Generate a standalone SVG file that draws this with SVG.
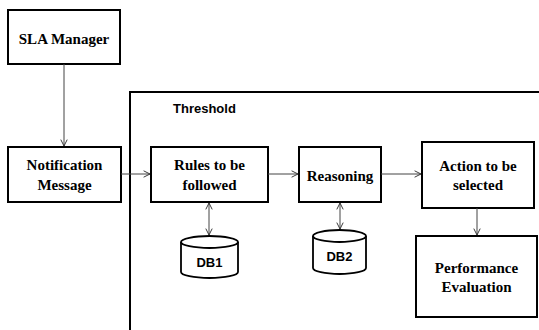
<svg xmlns="http://www.w3.org/2000/svg" width="539" height="330" viewBox="0 0 539 330">
  <defs>
    <marker id="arr" viewBox="0 0 10 10" refX="9" refY="5" markerWidth="8" markerHeight="8" markerUnits="userSpaceOnUse" orient="auto-start-reverse">
      <path d="M1,1 L9,5 L1,9" fill="none" stroke="#333" stroke-width="1.2"/>
    </marker>
    <style>
      .box { fill: #fff; stroke: #000; stroke-width: 2; }
      .frame { fill: none; stroke: #000; stroke-width: 2; }
      .lbl { font-family: 'Liberation Serif', 'DejaVu Serif', 'Times New Roman', serif; font-weight: bold; font-size: 15px; fill: #000; text-anchor: middle; }
      .db { font-family: 'Liberation Sans', Arial, sans-serif; font-weight: bold; font-size: 13px; fill: #000; text-anchor: middle; }
      .cyl { fill: #fff; stroke: #000; stroke-width: 1.8; }
      .conn { fill: none; stroke: #444; stroke-width: 1; }
    </style>
  </defs>
  <rect width="539" height="330" fill="#fff"/>

  <!-- threshold frame (runs off right and bottom edges) -->
  <g id="threshold">
    <rect class="frame" x="130" y="92" width="420" height="260"/>
    <text class="db" x="173" y="113" style="text-anchor:start">Threshold</text>
  </g>

  <g id="sla-manager">
    <rect class="box" x="8" y="10" width="112" height="54"/>
    <text class="lbl" x="64" y="44" font-family="Liberation Serif, serif">SLA Manager</text>
  </g>

  <g id="notification">
    <rect class="box" x="8" y="147" width="113" height="55"/>
    <text class="lbl" x="64.5" y="170">Notification</text>
    <text class="lbl" x="64.5" y="190">Message</text>
  </g>

  <g id="rules">
    <rect class="box" x="151" y="147" width="117" height="55"/>
    <text class="lbl" x="209.5" y="170">Rules to be</text>
    <text class="lbl" x="209.5" y="190">followed</text>
  </g>

  <g id="reasoning">
    <rect class="box" x="299" y="147" width="82" height="55"/>
    <text class="lbl" x="340" y="181">Reasoning</text>
  </g>

  <g id="action">
    <rect class="box" x="422" y="142" width="112" height="66"/>
    <text class="lbl" x="478" y="171">Action to be</text>
    <text class="lbl" x="478" y="190">selected</text>
  </g>

  <g id="performance">
    <rect class="box" x="416" y="236" width="121" height="81"/>
    <text class="lbl" x="476.5" y="273">Performance</text>
    <text class="lbl" x="476.5" y="292">Evaluation</text>
  </g>

  <g id="db1">
    <path class="cyl" d="M181,242 L181,272 A28.5,6 0 0 0 238,272 L238,242 A28.5,6 0 0 0 181,242 Z"/>
    <path class="cyl" d="M181,242 A28.5,6 0 0 0 238,242" fill="none"/>
    <text class="db" x="209.5" y="267">DB1</text>
  </g>

  <g id="db2">
    <path class="cyl" d="M313,236 L313,268 A26.5,6 0 0 0 366,268 L366,236 A26.5,6 0 0 0 313,236 Z"/>
    <path class="cyl" d="M313,236 A26.5,6 0 0 0 366,236" fill="none"/>
    <text class="db" x="339.5" y="261">DB2</text>
  </g>

  <g id="connectors">
    <line class="conn" x1="64" y1="64" x2="64" y2="146" marker-end="url(#arr)"/>
    <line class="conn" x1="121" y1="174" x2="150" y2="174" marker-end="url(#arr)"/>
    <line class="conn" x1="268" y1="174" x2="298" y2="174" marker-end="url(#arr)"/>
    <line class="conn" x1="381" y1="174" x2="421" y2="174" marker-end="url(#arr)"/>
    <line class="conn" x1="477" y1="208" x2="477" y2="235" marker-end="url(#arr)"/>
    <line class="conn" x1="209" y1="203" x2="209" y2="235" marker-start="url(#arr)" marker-end="url(#arr)"/>
    <line class="conn" x1="340" y1="203" x2="340" y2="229" marker-start="url(#arr)" marker-end="url(#arr)"/>
  </g>
</svg>
